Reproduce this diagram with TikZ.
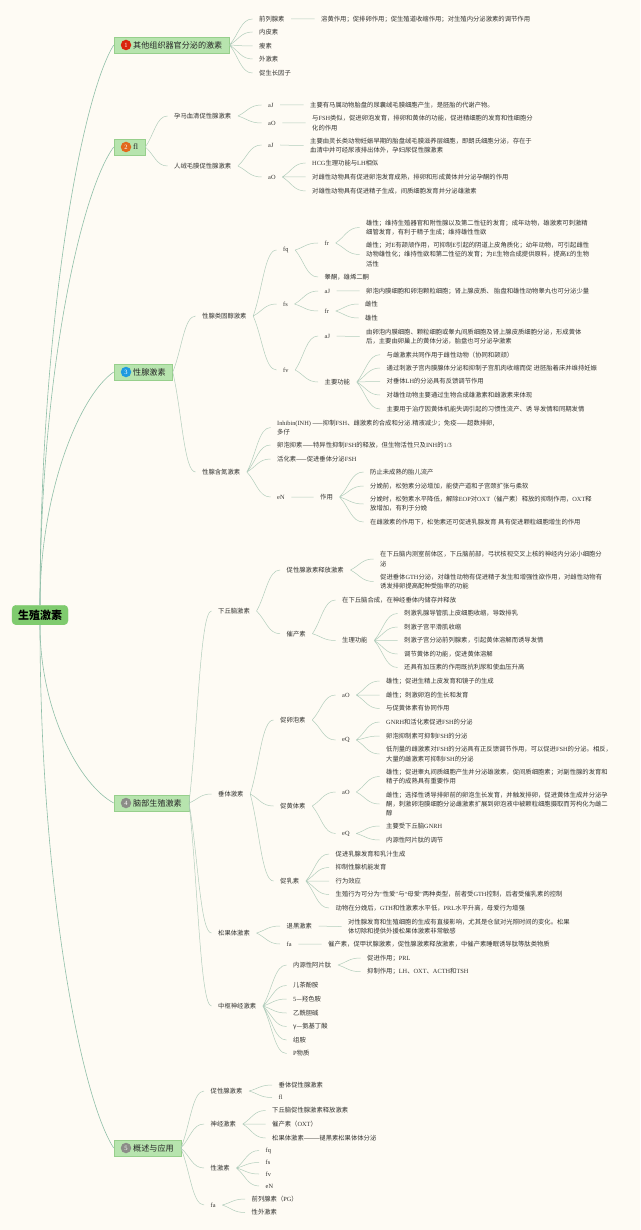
\documentclass[tikz,border=0pt]{standalone}
\usepackage{xcolor}
\usepackage{fontspec}
\usepackage{tikz}
\usetikzlibrary{calc}
\usetikzlibrary{positioning}
\setmainfont{Liberation Serif}
\newfontfamily\cjk{Noto Sans CJK SC}
\newcommand{\en}[1]{{\rmfamily #1}}
\definecolor{paper}{HTML}{FEFBF4}
\definecolor{rootgreen}{HTML}{7FCB6E}
\definecolor{boxgreen}{HTML}{B7E4AE}
\definecolor{boxedge}{HTML}{97CF8C}
\definecolor{linkgreen}{HTML}{B2CDBC}
\definecolor{trunkgreen}{HTML}{8FBFA8}
\definecolor{leafgray}{HTML}{333330}
\definecolor{dotred}{HTML}{D9230D}
\definecolor{dotorange}{HTML}{E2691C}
\definecolor{dotblue}{HTML}{1E9AE0}
\definecolor{dotgray}{HTML}{8C8C88}
\tikzstyle{leaf} = [anchor = west, inner xsep = 6.5pt, inner ysep = 1pt, xshift = -6.5pt, align = left, text = leafgray, font = \cjk\fontsize{6.33}{9.2}\selectfont]
\tikzstyle{root} = [draw = rootgreen, fill = rootgreen, rounded corners = 4pt, inner xsep = 6pt, minimum height = 19.5pt, font = \cjk\bfseries\fontsize{11}{12}\selectfont]
\tikzstyle{branch} = [anchor = west, draw = boxedge, fill = boxgreen, inner xsep = 7pt, inner ysep = 0pt, minimum height = 16pt, text = black!85, font = \cjk\fontsize{8.1}{10}\selectfont]
\tikzstyle{dot} = [circle, inner sep = 0pt, minimum size = 10.5pt, text = white, font = \rmfamily\fontsize{6.5}{7}\selectfont]
\tikzstyle{link} = [draw = linkgreen, line width = 0.5pt, to path = {(\tikztostart.east) .. controls ($(\tikztostart.east)!0.4!(\tikztotarget.west)$) and ($(\tikztotarget.west)!0.5!(\tikztostart.east |- \tikztotarget.west)$) .. (\tikztotarget.west)}]
\tikzstyle{trunk} = [draw = trunkgreen, line width = 0.6pt]
\begin{document}
\begin{tikzpicture}[x = 1pt, y = -1pt]
\path [fill = paper, use as bounding box] (0, 0) rectangle (640, 1230);

\node [root] (R) at (40, 615) {生殖激素};
\node [branch] (B1) at (113.7, 45) {\hspace*{12.3pt}其他组织器官分泌的激素};
\node [branch] (B2) at (113.7, 147) {\hspace*{12.3pt}\en{fl}};
\node [branch] (B3) at (113.7, 372) {\hspace*{12.3pt}性腺激素};
\node [branch] (B4) at (113.7, 803) {\hspace*{12.3pt}脑部生殖激素};
\node [branch] (B5) at (113.7, 1148) {\hspace*{12.3pt}概述与应用};
\node [dot, fill = dotred] (D1) at (126, 45) {1};
\node [dot, fill = dotorange] (D2) at (126, 147) {2};
\node [dot, fill = dotblue] (D3) at (126, 372) {3};
\node [dot, fill = dotgray] (D4) at (126, 803) {4};
\node [dot, fill = dotgray] (D5) at (126, 1148) {5};
\draw [trunk] (R.north) .. controls (40, 330) and (80, 100) .. (B1.west);
\draw [trunk] (R.north) .. controls (40, 380) and (80, 193) .. (B2.west);
\draw [trunk] (R.north) .. controls (40, 491) and (80, 395) .. (B3.west);
\draw [trunk] (R.south) .. controls (40, 712) and (80, 785) .. (B4.west);
\draw [trunk] (R.south) .. controls (40, 881) and (80, 1096) .. (B5.west);

\node [leaf] (B1a) at (259, 19) {前列腺素};
\node [leaf] (B1a1) at (321, 19) {溶黄作用；促排卵作用；促生殖道收缩作用；对生殖内分泌激素的调节作用};
\node [leaf] (B1b) at (259, 32) {内皮素};
\node [leaf] (B1c) at (259, 46) {瘦素};
\node [leaf] (B1d) at (259, 59) {外激素};
\node [leaf] (B1e) at (259, 73) {促生长因子};
\draw [link] (B1) to (B1a) (B1) to (B1b) (B1) to (B1c) (B1) to (B1d) (B1) to (B1e) (B1a) to (B1a1);

\node [leaf] (B2a) at (174, 116) {孕马血清促性腺激素};
\node [leaf] (B2b) at (174, 166) {人绒毛膜促性腺激素};
\node [leaf] (B2a1) at (268, 105) {\en{aJ}};
\node [leaf] (B2a2) at (268, 123) {\en{aO}};
\node [leaf] (B2a1a) at (310, 105) {主要有马属动物胎盘的尿囊绒毛膜细胞产生，是胚胎的代谢产物。};
\node [leaf] (B2a2a) at (312, 123) {与\en{FSH}类似，促进卵泡发育，排卵和黄体的功能，促进精细胞的发育和性细胞分\\化的作用};
\node [leaf] (B2b1) at (268, 145) {\en{aJ}};
\node [leaf] (B2b2) at (268, 177) {\en{aO}};
\node [leaf] (B2b1a) at (310, 145.5) {主要由灵长类动物妊娠早期的胎盘绒毛膜滋养层细胞，即朗氏细胞分泌，存在于\\血清中并可经尿液排出体外，孕妇尿促性腺激素};
\node [leaf] (B2b2a) at (312, 163) {\en{HCG}生理功能与\en{LH}相似};
\node [leaf] (B2b2b) at (312, 177) {对雌性动物具有促进卵泡发育成熟，排卵和形成黄体并分泌孕酮的作用};
\node [leaf] (B2b2c) at (312, 191) {对雄性动物具有促进精子生成，间质细胞发育并分泌雄激素};
\draw [link] (B2) to (B2a) (B2) to (B2b) (B2a) to (B2a1) (B2a) to (B2a2) (B2b) to (B2b1) (B2b) to (B2b2);
\draw [link] (B2a1) to (B2a1a) (B2a2) to (B2a2a) (B2b1) to (B2b1a);
\draw [link] (B2b2) to (B2b2a) (B2b2) to (B2b2b) (B2b2) to (B2b2c);

\node [leaf] (B3a) at (202, 316) {性腺类固醇激素};
\node [leaf] (B3b) at (202, 472) {性腺含氮激素};
\node [leaf] (Fq) at (283, 250) {\en{fq}};
\node [leaf] (Fs) at (283, 304) {\en{fs}};
\node [leaf] (Fv) at (283, 370) {\en{fv}};
\node [leaf] (Fq1) at (324.5, 243) {\en{fr}};
\node [leaf] (Fq2) at (324.5, 277) {睾酮，雄烯二酮};
\node [leaf] (Fq1a) at (366, 227.5) {雄性；维持生殖器官和附性腺以及第二性征的发育；成年动物，雄激素可刺激精\\细管发育，有利于精子生成；维持雄性性欲};
\node [leaf] (Fq1b) at (366, 254.5) {雌性；对\en{E}有颉颃作用，可抑制\en{E}引起的阴道上皮角质化；幼年动物，可引起雌性\\动物雄性化；维持性欲和第二性征的发育；为\en{E}生物合成提供原料，提高\en{E}的生物\\活性};
\node [leaf] (Fs1) at (324.5, 291) {\en{aJ}};
\node [leaf] (Fs2) at (324.5, 311) {\en{fr}};
\node [leaf] (Fs1a) at (366, 291) {卵泡内膜细胞和卵泡颗粒细胞；肾上腺皮质、 胎盘和雄性动物睾丸也可分泌少量};
\node [leaf] (Fs2a) at (365, 304) {雌性};
\node [leaf] (Fs2b) at (365, 318) {雄性};
\node [leaf] (Fv1) at (324.5, 336) {\en{aJ}};
\node [leaf] (Fv2) at (324.5, 382) {主要功能};
\node [leaf] (Fv1a) at (366, 336.5) {由卵泡内膜细胞、颗粒细胞或睾丸间质细胞及肾上腺皮质细胞分泌，形成黄体\\后，主要由卵巢上的黄体分泌，胎盘也可分泌孕激素};
\node [leaf] (Fv2a) at (386.5, 354.7) {与雌激素共同作用于雌性动物（协同和颉颃）};
\node [leaf] (Fv2b) at (386.5, 368) {通过刺激子宫内膜腺体分泌和抑制子宫肌肉收缩而促 进胚胎着床并维持妊娠};
\node [leaf] (Fv2c) at (386.5, 381.5) {对垂体\en{LH}的分泌具有反馈调节作用};
\node [leaf] (Fv2d) at (386.5, 395) {对雄性动物主要通过生物合成雄激素和雌激素来体现};
\node [leaf] (Fv2e) at (386.5, 409) {主要用于治疗因黄体机能失调引起的习惯性流产、诱 导发情和同期发情};
\draw [link] (B3) to (B3a) (B3) to (B3b) (B3a) to (Fq) (B3a) to (Fs) (B3a) to (Fv);
\draw [link] (Fq) to (Fq1) (Fq) to (Fq2) (Fq1) to (Fq1a) (Fq1) to (Fq1b);
\draw [link] (Fs) to (Fs1) (Fs) to (Fs2) (Fs1) to (Fs1a) (Fs2) to (Fs2a) (Fs2) to (Fs2b);
\draw [link] (Fv) to (Fv1) (Fv) to (Fv2) (Fv1) to (Fv1a);
\draw [link] (Fv2) to (Fv2a) (Fv2) to (Fv2b) (Fv2) to (Fv2c) (Fv2) to (Fv2d) (Fv2) to (Fv2e);

\node [leaf] (B3b1) at (277, 427.5) {\en{Inhibin(INH)} ——抑制\en{FSH}、雌激素的合成和分泌.精液减少；免疫——超数排卵,\\多仔};
\node [leaf] (B3b2) at (277, 445) {卵泡抑素——特异性抑制\en{FSH}的释放，但生物活性只及\en{INH}的\en{1/3}};
\node [leaf] (B3b3) at (277, 459) {活化素——促进垂体分泌\en{FSH}};
\node [leaf] (EN) at (277, 497) {\en{eN}};
\node [leaf] (EN1) at (320, 497) {作用};
\node [leaf] (EN1a) at (370, 472) {防止未成熟的胎儿流产};
\node [leaf] (EN1b) at (370, 486) {分娩前，松弛素分泌增加，能使产道和子宫颈扩张与柔软};
\node [leaf] (EN1c) at (370, 504) {分娩时，松弛素水平降低，解除\en{EOP}对\en{OXT}（催产素）释放的抑制作用，\en{OXT}释\\放增加，有利于分娩};
\node [leaf] (EN1d) at (370, 522) {在雌激素的作用下，松弛素还可促进乳腺发育 具有促进颗粒细胞增生的作用};
\draw [link] (B3b) to (B3b1) (B3b) to (B3b2) (B3b) to (B3b3) (B3b) to (EN) (EN) to (EN1);
\draw [link] (EN1) to (EN1a) (EN1) to (EN1b) (EN1) to (EN1c) (EN1) to (EN1d);

\node [leaf] (Hy) at (218, 611) {下丘脑激素};
\node [leaf] (Hy1) at (286.5, 570) {促性腺激素释放激素};
\node [leaf] (Hy1a) at (380, 559) {在下丘脑内测室前体区，下丘脑前部，弓状核视交叉上核的神经内分泌小细胞分\\泌};
\node [leaf] (Hy1b) at (380, 581.5) {促进垂体\en{GTH}分泌，对雄性动物有促进精子发生和增强性欲作用，对雌性动物有\\诱发排卵提高配种受胎率的功能};
\node [leaf] (Hy2) at (286.5, 633.7) {催产素};
\node [leaf] (Hy2a) at (342, 600) {在下丘脑合成，在神经垂体内储存并释放};
\node [leaf] (Hy2b) at (342, 640.5) {生理功能};
\node [leaf] (Hy2b1) at (404, 613.5) {刺激乳腺导管肌上皮细胞收缩，导致排乳};
\node [leaf] (Hy2b2) at (404, 627) {刺激子宫平滑肌收缩};
\node [leaf] (Hy2b3) at (404, 640.5) {刺激子宫分泌前列腺素，引起黄体溶解而诱导发情};
\node [leaf] (Hy2b4) at (404, 654) {调节黄体的功能，促进黄体溶解};
\node [leaf] (Hy2b5) at (404, 667.5) {还具有加压素的作用既抗利尿和使血压升高};
\draw [link] (B4) to (Hy) (Hy) to (Hy1) (Hy) to (Hy2) (Hy1) to (Hy1a) (Hy1) to (Hy1b);
\draw [link] (Hy2) to (Hy2a) (Hy2) to (Hy2b);
\draw [link] (Hy2b) to (Hy2b1) (Hy2b) to (Hy2b2) (Hy2b) to (Hy2b3) (Hy2b) to (Hy2b4) (Hy2b) to (Hy2b5);

\node [leaf] (Pi) at (218, 794) {垂体激素};
\node [leaf] (Fsh) at (280, 720) {促卵泡素};
\node [leaf] (Fsh1) at (342, 695) {\en{aO}};
\node [leaf] (Fsh1a) at (386, 681) {雄性；促进生精上皮发育和镜子的生成};
\node [leaf] (Fsh1b) at (386, 695) {雌性；刺激卵泡的生长和发育};
\node [leaf] (Fsh1c) at (386, 708.5) {与促黄体素有协同作用};
\node [leaf] (Fsh2) at (342, 740) {\en{eQ}};
\node [leaf] (Fsh2a) at (386, 722) {\en{GNRH}和活化素促进\en{FSH}的分泌};
\node [leaf] (Fsh2b) at (386, 736) {卵泡抑制素可抑制\en{FSH}的分泌};
\node [leaf] (Fsh2c) at (386, 754) {低剂量的雌激素对\en{FSH}的分泌具有正反馈调节作用，可以促进\en{FSH}的分泌。相反，\\大量的雌激素可抑制\en{FSH}的分泌};
\node [leaf] (Lh) at (280, 806) {促黄体素};
\node [leaf] (Lh1) at (342, 792) {\en{aO}};
\node [leaf] (Lh1a) at (386, 776.5) {雄性；促进睾丸间质细胞产生并分泌雄激素，促间质细胞素；对副性腺的发育和\\精子的成熟具有重要作用};
\node [leaf] (Lh1b) at (386, 804) {雌性；选择性诱导排卵前的卵泡生长发育，并触发排卵，促进黄体生成并分泌孕\\酮，刺激卵泡膜细胞分泌雌激素扩展到卵泡液中被颗粒细胞摄取而芳构化为雌二\\醇};
\node [leaf] (Lh2) at (342, 833.5) {\en{eQ}};
\node [leaf] (Lh2a) at (386, 826) {主要受下丘脑\en{GNRH}};
\node [leaf] (Lh2b) at (386, 840) {内源性阿片肽的调节};
\node [leaf] (Prl) at (280, 881) {促乳素};
\node [leaf] (Prl1) at (335.5, 854) {促进乳腺发育和乳汁生成};
\node [leaf] (Prl2) at (335.5, 867.5) {抑制性腺机能发育};
\node [leaf] (Prl3) at (335.5, 881) {行为效应};
\node [leaf] (Prl4) at (335.5, 894.5) {生殖行为可分为\en{“}性爱\en{”}与\en{“}母爱\en{”}两种类型，前者受\en{GTH}控制，后者受催乳素的控制};
\node [leaf] (Prl5) at (335.5, 908) {动物在分娩后，\en{GTH}和性激素水平低，\en{PRL}水平升高，母爱行为增强};
\draw [link] (B4) to (Pi) (Pi) to (Fsh) (Pi) to (Lh) (Pi) to (Prl);
\draw [link] (Fsh) to (Fsh1) (Fsh) to (Fsh2) (Fsh1) to (Fsh1a) (Fsh1) to (Fsh1b) (Fsh1) to (Fsh1c);
\draw [link] (Fsh2) to (Fsh2a) (Fsh2) to (Fsh2b) (Fsh2) to (Fsh2c);
\draw [link] (Lh) to (Lh1) (Lh) to (Lh2) (Lh1) to (Lh1a) (Lh1) to (Lh1b) (Lh2) to (Lh2a) (Lh2) to (Lh2b);
\draw [link] (Prl) to (Prl1) (Prl) to (Prl2) (Prl) to (Prl3) (Prl) to (Prl4) (Prl) to (Prl5);

\node [leaf] (Pn) at (218, 933) {松果体激素};
\node [leaf] (Pn1) at (286.5, 926) {退黑激素};
\node [leaf] (Pn1a) at (348, 926.5) {对性腺发育和生殖细胞的生成有直接影响，尤其是仓鼠对光照时间的变化。松果\\体切除和提供外援松果体激素非常敏感};
\node [leaf] (Pn2) at (286.5, 944) {\en{fa}};
\node [leaf] (Pn2a) at (328, 944) {催产素，促甲状腺激素，促性腺激素释放激素，中催产素睡眠诱导肽等肽类物质};
\draw [link] (B4) to (Pn) (Pn) to (Pn1) (Pn) to (Pn2) (Pn1) to (Pn1a) (Pn2) to (Pn2a);

\node [leaf] (Cn) at (218, 1006) {中枢神经激素};
\node [leaf] (Cn1) at (293, 965) {内源性阿片肽};
\node [leaf] (Cn1a) at (367, 958) {促进作用；\en{PRL}};
\node [leaf] (Cn1b) at (367, 971.7) {抑制作用；\en{LH}、\en{OXT}、\en{ACTH}和\en{TSH}};
\node [leaf] (Cn2) at (293, 985.5) {儿茶酚胺};
\node [leaf] (Cn3) at (293, 999) {\en{5}—羟色胺};
\node [leaf] (Cn4) at (293, 1013) {乙酰胆碱};
\node [leaf] (Cn5) at (293, 1026.5) {γ—氨基丁酸};
\node [leaf] (Cn6) at (293, 1040) {组胺};
\node [leaf] (Cn7) at (293, 1053.5) {\en{P}物质};
\draw [link] (B4) to (Cn) (Cn) to (Cn1) (Cn) to (Cn2) (Cn) to (Cn3) (Cn) to (Cn4) (Cn) to (Cn5) (Cn) to (Cn6) (Cn) to (Cn7);
\draw [link] (Cn1) to (Cn1a) (Cn1) to (Cn1b);

\node [leaf] (A1) at (210.5, 1091) {促性腺激素};
\node [leaf] (A1a) at (278.5, 1085) {垂体促性腺激素};
\node [leaf] (A1b) at (278.5, 1097.5) {\en{fl}};
\node [leaf] (A2) at (210.5, 1124) {神经激素};
\node [leaf] (A2a) at (272, 1110.5) {下丘脑促性腺激素释放激素};
\node [leaf] (A2b) at (272, 1124) {催产素（\en{OXT}）};
\node [leaf] (A2c) at (272, 1138) {松果体激素———褪黑素松果体体分泌};
\node [leaf] (A3) at (210.5, 1168) {性激素};
\node [leaf] (A3a) at (265.5, 1150.5) {\en{fq}};
\node [leaf] (A3b) at (265.5, 1162.5) {\en{fs}};
\node [leaf] (A3c) at (265.5, 1174) {\en{fv}};
\node [leaf] (A3d) at (265.5, 1186) {\en{eN}};
\node [leaf] (A4) at (210.5, 1205) {\en{fa}};
\node [leaf] (A4a) at (251.5, 1199) {前列腺素（\en{PG}）};
\node [leaf] (A4b) at (251.5, 1212.5) {性外激素};
\draw [link] (B5) to (A1) (B5) to (A2) (B5) to (A3) (B5) to (A4);
\draw [link] (A1) to (A1a) (A1) to (A1b) (A2) to (A2a) (A2) to (A2b) (A2) to (A2c);
\draw [link] (A3) to (A3a) (A3) to (A3b) (A3) to (A3c) (A3) to (A3d) (A4) to (A4a) (A4) to (A4b);
\end{tikzpicture}
\end{document}
